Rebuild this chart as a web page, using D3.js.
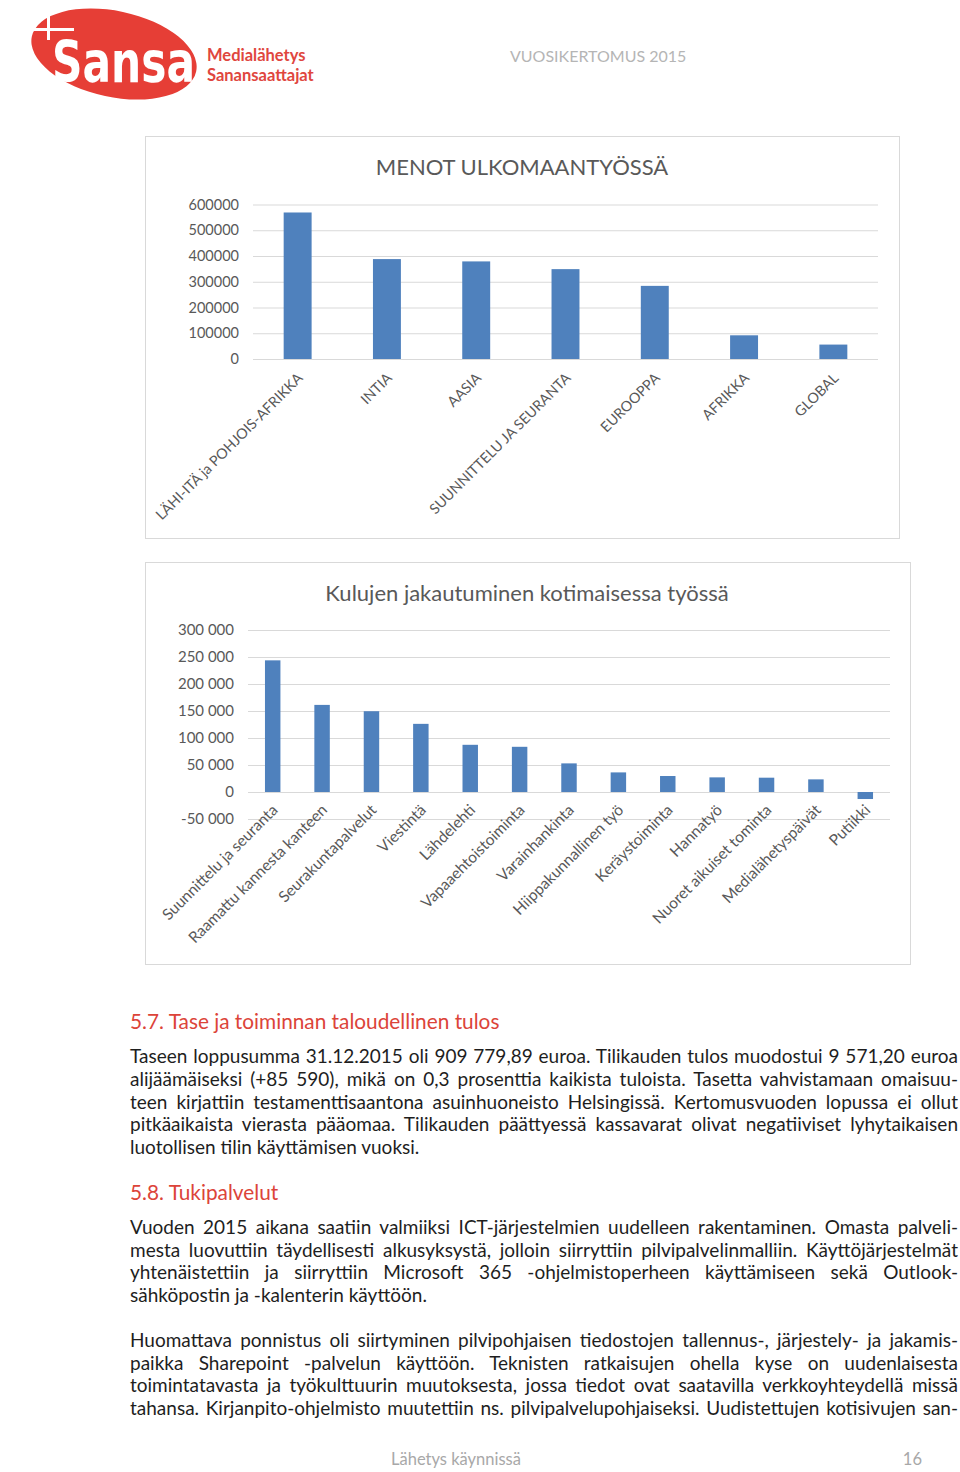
<!DOCTYPE html>
<html><head><meta charset="utf-8">
<script src="https://cdn.jsdelivr.net/npm/d3@7"></script>
<style>body{margin:0;background:#fff}</style>
</head><body>
<svg id="page" width="960" height="1472" xmlns="http://www.w3.org/2000/svg"></svg>
<script>
// ---------- DATA ----------
const cats1 = ["LÄHI-ITÄ ja POHJOIS-AFRIKKA","INTIA","AASIA","SUUNNITTELU JA SEURANTA","EUROOPPA","AFRIKKA","GLOBAL"];
const vals1 = [569000,388000,379000,349000,284000,92000,56000];
const ticks1 = [0,100000,200000,300000,400000,500000,600000];
const title1 = "MENOT ULKOMAANTYÖSSÄ";

const cats2 = ["Suunnittelu ja seuranta","Raamattu kannesta kanteen","Seurakuntapalvelut","Viestintä","Lähdelehti","Vapaaehtoistoiminta","Varainhankinta","Hiippakunnallinen työ","Keräystoiminta","Hannatyö","Nuoret aikuiset tominta","Medialähetyspäivät","Putiikki"];
const vals2 = [243800,161300,149600,126200,87400,83700,53000,36300,29600,27100,26500,23400,-13000];
const ticks2 = [-50000,0,50000,100000,150000,200000,250000,300000];
const title2 = "Kulujen jakautuminen kotimaisessa työssä";

const heading1 = "5.7. Tase ja toiminnan taloudellinen tulos";
const para1 = [
 "Taseen loppusumma 31.12.2015 oli 909 779,89 euroa. Tilikauden tulos muodostui 9 571,20 euroa",
 "alijäämäiseksi (+85 590), mikä on 0,3 prosenttia kaikista tuloista. Tasetta vahvistamaan omaisuu-",
 "teen kirjattiin testamenttisaantona asuinhuoneisto Helsingissä. Kertomusvuoden lopussa ei ollut",
 "pitkäaikaista vierasta pääomaa. Tilikauden päättyessä kassavarat olivat negatiiviset lyhytaikaisen",
 "luotollisen tilin käyttämisen vuoksi."
];
const heading2 = "5.8. Tukipalvelut";
const para2 = [
 "Vuoden 2015 aikana saatiin valmiiksi ICT-järjestelmien uudelleen rakentaminen. Omasta palveli-",
 "mesta luovuttiin täydellisesti alkusyksystä, jolloin siirryttiin pilvipalvelinmalliin. Käyttöjärjestelmät",
 "yhtenäistettiin ja siirryttiin Microsoft 365 -ohjelmistoperheen käyttämiseen sekä Outlook-",
 "sähköpostin ja -kalenterin käyttöön."
];
const para3 = [
 "Huomattava ponnistus oli siirtyminen pilvipohjaisen tiedostojen tallennus-, järjestely- ja jakamis-",
 "paikka Sharepoint -palvelun käyttöön. Teknisten ratkaisujen ohella kyse on uudenlaisesta",
 "toimintatavasta ja työkulttuurin muutoksesta, jossa tiedot ovat saatavilla verkkoyhteydellä missä",
 "tahansa. Kirjanpito-ohjelmisto muutettiin ns. pilvipalvelupohjaiseksi. Uudistettujen kotisivujen san-"
];
// ---------- STYLE ----------
const BAR = "#4f81bd", GRID = "#d9d9d9", TXT = "#595959", RED = "#dc4439";
const CF = "Lato, 'Open Sans', sans-serif";
const svg = d3.select("#page");
svg.append("rect").attr("width",960).attr("height",1472).attr("fill","#fff");

// ---------- LOGO ----------
const logo = svg.append("g");
logo.append("ellipse").attr("cx",114).attr("cy",54).attr("rx",84).attr("ry",43)
  .attr("transform","rotate(12,114,54)").attr("fill","#e63e36");
const word = logo.append("g").attr("transform","translate(52,82) scale(1,1.35)");
word.append("text").attr("x",0).attr("y",0).attr("font-family","'DejaVu Sans', sans-serif")
  .attr("font-weight","bold").attr("font-size",42).attr("textLength",143).attr("lengthAdjust","spacingAndGlyphs")
  .attr("fill","#fff").text("Sansa");
logo.append("rect").attr("x",47).attr("y",12).attr("width",3).attr("height",28).attr("fill","#fff");
logo.append("rect").attr("x",32).attr("y",28).attr("width",42).attr("height",3).attr("fill","#fff");
logo.append("text").attr("x",207).attr("y",61).attr("font-family",CF).attr("font-weight",700)
  .attr("font-size",16.5).attr("fill","#e0463e").text("Medialähetys");
logo.append("text").attr("x",207).attr("y",81).attr("font-family",CF).attr("font-weight",700)
  .attr("font-size",16.5).attr("fill","#e0463e").text("Sanansaattajat");
svg.append("text").attr("x",510).attr("y",62).attr("font-family",CF).attr("font-size",16)
  .attr("fill","#b5b5b5").text("VUOSIKERTOMUS 2015");

// ---------- CHART FUNCTION ----------
function barChart(o){
  const g = svg.append("g");
  g.append("rect").attr("x",o.box[0]+0.5).attr("y",o.box[1]+0.5).attr("width",o.box[2]).attr("height",o.box[3])
    .attr("fill","#fff").attr("stroke",GRID);
  g.append("text").attr("x",o.titleX).attr("y",o.titleY).attr("text-anchor","middle")
    .attr("font-family",CF).attr("font-size",22).attr("fill",TXT).text(o.title);
  const x = d3.scaleBand().domain(o.cats).range([o.x0,o.x1]).paddingInner(0.687).paddingOuter(0.3435);
  const y = d3.scaleLinear().domain(o.domain).range([o.y0,o.y1]);
  const ax = g.append("g").attr("transform",`translate(${o.x0},0)`)
    .call(d3.axisLeft(y).tickValues(o.ticks).tickSize(-(o.x1-o.x0)).tickPadding(o.tickPad).tickFormat(o.fmt));
  ax.select(".domain").remove();
  ax.selectAll("line").attr("stroke",GRID);
  ax.selectAll("text").attr("font-family",CF).attr("font-size",o.tickFs).attr("fill",TXT);
  g.selectAll("rect.bar").data(o.vals).join("rect").attr("class","bar")
    .attr("x",(d,i)=>x(o.cats[i])).attr("width",x.bandwidth())
    .attr("y",d=>y(Math.max(0,d))).attr("height",d=>Math.abs(y(d)-y(0))).attr("fill",BAR);
  g.selectAll("text.cat").data(o.cats).join("text").attr("class","cat")
    .attr("transform",d=>`translate(${x(d)+x.bandwidth()/2+o.ldx},${y(0)+o.ldy}) rotate(-45)`)
    .attr("text-anchor","end").attr("font-family",CF).attr("font-size",o.catFs).attr("fill",TXT).text(d=>d);
}
barChart({box:[145,136,754,402], title:title1, titleX:522, titleY:175, cats:cats1, vals:vals1, ticks:ticks1,
  domain:[0,600000], x0:253, x1:878, y0:359, y1:204.5, tickPad:14, tickFs:14.5, fmt:d3.format("d"),
  ldx:6, ldy:20, catFs:14.3});
const fi = d3.formatLocale({decimal:",",thousands:" ",grouping:[3],currency:["",""],minus:"-"}).format(",");
barChart({box:[145,562,765,402], title:title2, titleX:527, titleY:601, cats:cats2, vals:vals2, ticks:ticks2,
  domain:[-50000,300000], x0:248, x1:890, y0:819, y1:630, tickPad:14, tickFs:15, fmt:fi,
  ldx:6, ldy:19, catFs:15.5});

// ---------- TEXT ----------
const BF = "Lato, sans-serif", BFS = 19, LX = 130, RX = 958;
function heading(t,yb){ svg.append("text").attr("x",LX).attr("y",yb).attr("font-family",BF).attr("font-size",20.8)
  .attr("fill",RED).text(t); }
function para(lines, y0, lh, justifyLast){
  lines.forEach((l,i)=>{
    const t = svg.append("text").attr("x",LX).attr("y",y0+i*lh).attr("font-family",BF).attr("font-size",BFS)
      .attr("fill","#1e1e1e").text(l);
    if(i<lines.length-1 || justifyLast){
      const w = t.node().getComputedTextLength();
      const n = (l.match(/ /g)||[]).length;
      if(w > RX-LX){ t.attr("textLength",RX-LX).attr("lengthAdjust","spacingAndGlyphs"); }
      else if(n>0) t.attr("word-spacing",(RX-LX-w)/n);
    }
  });
}
heading(heading1,1029);
para(para1,1063,22.75,false);
heading(heading2,1200);
para(para2,1234,22.7,false);
para(para3,1347,22.7,true);
svg.append("text").attr("x",456).attr("y",1465).attr("text-anchor","middle").attr("font-family",BF)
  .attr("font-size",16.5).attr("fill","#a8a8a8").text("Lähetys käynnissä");
svg.append("text").attr("x",922).attr("y",1465).attr("text-anchor","end").attr("font-family",BF)
  .attr("font-size",16.5).attr("fill","#a8a8a8").text("16");
</script>
</body></html>
